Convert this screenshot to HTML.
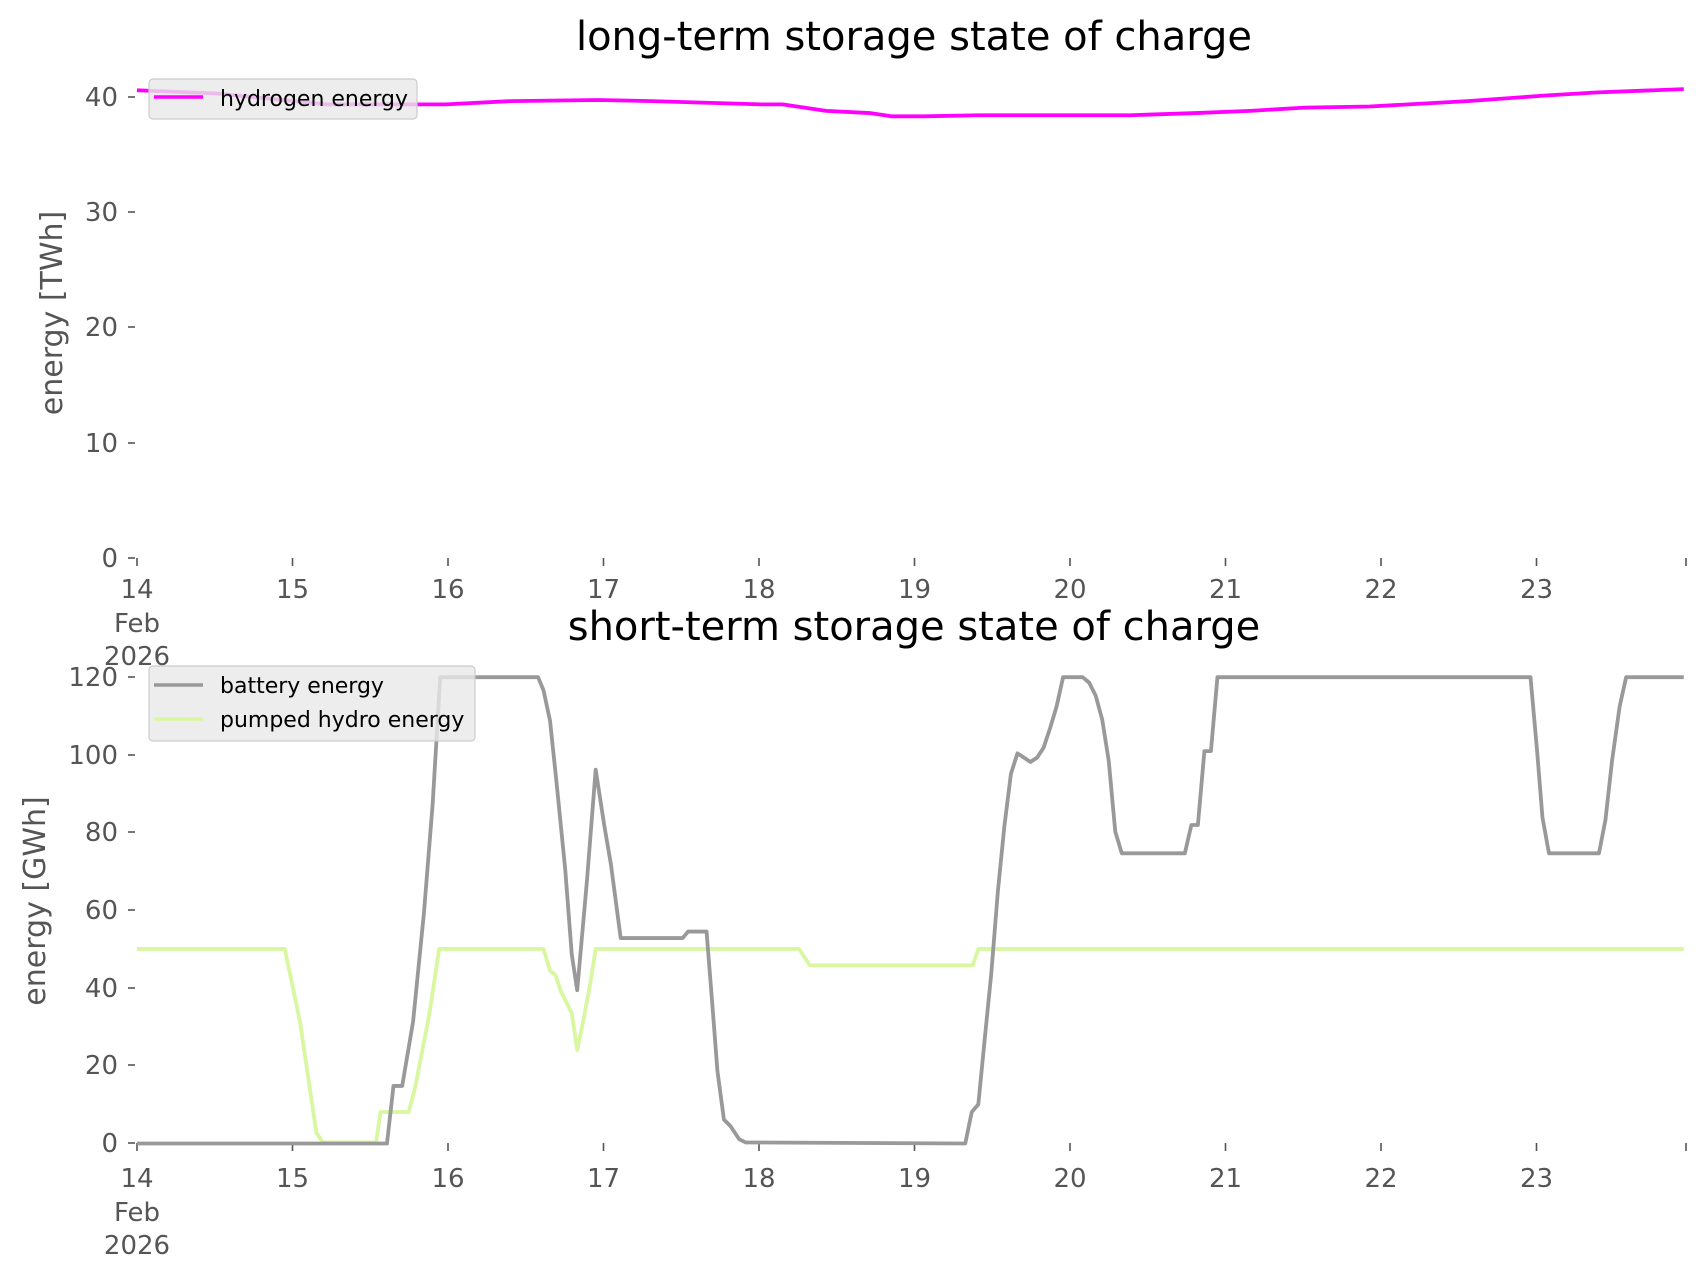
<!DOCTYPE html>
<html><head><meta charset="utf-8"><style>
html,body{margin:0;padding:0;background:#fff;}
svg{display:block;font-family:"DejaVu Sans","Liberation Sans",sans-serif;}
</style></head><body>
<svg width="1706" height="1277" viewBox="0 0 1706 1277" xmlns="http://www.w3.org/2000/svg">
<rect width="1706" height="1277" fill="#fff"/>
<text x="914" y="50" font-size="40" text-anchor="middle" fill="#000">long-term storage state of charge</text>
<text x="914" y="640" font-size="40" text-anchor="middle" fill="#000">short-term storage state of charge</text>
<text transform="translate(62,313) rotate(-90)" font-size="30" text-anchor="middle" fill="#555">energy [TWh]</text>
<text transform="translate(45,901) rotate(-90)" font-size="30" text-anchor="middle" fill="#555">energy [GWh]</text>

<g fill="#555" font-size="26" text-anchor="end">
<g stroke="#555" stroke-width="1.6">
<line x1="128" y1="558" x2="135" y2="558"/><line x1="128" y1="443" x2="135" y2="443"/><line x1="128" y1="327" x2="135" y2="327"/><line x1="128" y1="212" x2="135" y2="212"/><line x1="128" y1="97" x2="135" y2="97"/>
<line x1="128" y1="1143" x2="135" y2="1143"/><line x1="128" y1="1065" x2="135" y2="1065"/><line x1="128" y1="988" x2="135" y2="988"/><line x1="128" y1="910" x2="135" y2="910"/><line x1="128" y1="832" x2="135" y2="832"/><line x1="128" y1="755" x2="135" y2="755"/><line x1="128" y1="677" x2="135" y2="677"/>
</g>
<text x="118" y="567">0</text><text x="118" y="452">10</text><text x="118" y="336">20</text><text x="118" y="221">30</text><text x="118" y="106">40</text>
<text x="118" y="1152">0</text><text x="118" y="1074">20</text><text x="118" y="997">40</text><text x="118" y="919">60</text><text x="118" y="841">80</text><text x="118" y="764">100</text><text x="118" y="686">120</text>
</g>

<g stroke="#555" stroke-width="1.6">
<line x1="137" y1="558" x2="137" y2="566"/><line x1="292.5" y1="558" x2="292.5" y2="566"/><line x1="448" y1="558" x2="448" y2="566"/><line x1="603.5" y1="558" x2="603.5" y2="566"/><line x1="759" y1="558" x2="759" y2="566"/><line x1="914.5" y1="558" x2="914.5" y2="566"/><line x1="1070" y1="558" x2="1070" y2="566"/><line x1="1225.5" y1="558" x2="1225.5" y2="566"/><line x1="1381" y1="558" x2="1381" y2="566"/><line x1="1536.5" y1="558" x2="1536.5" y2="566"/><line x1="1686" y1="558" x2="1686" y2="566"/>
<line x1="137" y1="1143" x2="137" y2="1151"/><line x1="292.5" y1="1143" x2="292.5" y2="1151"/><line x1="448" y1="1143" x2="448" y2="1151"/><line x1="603.5" y1="1143" x2="603.5" y2="1151"/><line x1="759" y1="1143" x2="759" y2="1151"/><line x1="914.5" y1="1143" x2="914.5" y2="1151"/><line x1="1070" y1="1143" x2="1070" y2="1151"/><line x1="1225.5" y1="1143" x2="1225.5" y2="1151"/><line x1="1381" y1="1143" x2="1381" y2="1151"/><line x1="1536.5" y1="1143" x2="1536.5" y2="1151"/><line x1="1686" y1="1143" x2="1686" y2="1151"/>
</g>
<g fill="#555" font-size="26" text-anchor="middle">
<text x="137" y="598">14</text><text x="137" y="632">Feb</text><text x="137" y="665">2026</text>
<text x="292.5" y="598">15</text><text x="448" y="598">16</text><text x="603.5" y="598">17</text><text x="759" y="598">18</text><text x="914.5" y="598">19</text><text x="1070" y="598">20</text><text x="1225.5" y="598">21</text><text x="1381" y="598">22</text><text x="1536.5" y="598">23</text>
<text x="137" y="1187">14</text><text x="137" y="1221">Feb</text><text x="137" y="1254">2026</text>
<text x="292.5" y="1187">15</text><text x="448" y="1187">16</text><text x="603.5" y="1187">17</text><text x="759" y="1187">18</text><text x="914.5" y="1187">19</text><text x="1070" y="1187">20</text><text x="1225.5" y="1187">21</text><text x="1381" y="1187">22</text><text x="1536.5" y="1187">23</text>
</g>

<g transform="scale(1.087)" fill="none" stroke-linejoin="round" stroke-width="3.5">
<polyline stroke="#ff00ff" points="126,83 200,86 300,96 350,96 410,96 470,93 550,92 600,93 700,96 720,96 760,102 800,104 820,107 850,107 900,106 1040,106 1100,104 1150,102 1200,99 1260,98 1350,93 1420,88 1470,85 1549,82"/>
<polyline stroke="#d8f7a0" points="126,873 262,873 276,940 291,1042 297,1051 346,1051 350,1023 376,1023 382,1000 395,933 404,873 500,873 506,893 511,897 516,912 521,922 526,932 531,966 536,942 543,905 548,873 735,873 745,888 895,888 900,873 1549,873"/>
<polyline stroke="#999" points="126,1052 356,1052 362,999 370,999 380,940 390,840 398,740 405,623 495,623 500,635 506,663 512,720 520,800 526,878 531,911 540,810 548,708 556,760 562,795 571,863 628,863 633,857 650,857 655,920 660,985 666,1030 672,1036 680,1048 686,1051 888,1052 894,1023 900,1016 906,955 912,895 918,820 924,760 930,712 936,693 942,697 948,701 954,697 960,688 966,670 972,650 978,623 996,623 1002,628 1008,640 1014,662 1020,700 1026,765 1032,785 1090,785 1096,759 1102,759 1108,691 1114,691 1120,623 1408,623 1414,690 1419,752 1425,785 1471,785 1477,754 1483,700 1490,650 1496,623 1549,623"/>
</g>

<rect x="149" y="79" width="268" height="40" rx="4" fill="#e8e8e8" fill-opacity="0.8" stroke="#cccccc" stroke-width="1.2"/>
<line x1="154" y1="97" x2="203" y2="97" stroke="#ff00ff" stroke-width="3.5"/>
<text x="220" y="106" font-size="22" fill="#000">hydrogen energy</text>
<rect x="149" y="666" width="326" height="75" rx="4" fill="#e8e8e8" fill-opacity="0.8" stroke="#cccccc" stroke-width="1.2"/>
<line x1="154" y1="685" x2="203" y2="685" stroke="#999" stroke-width="3.5"/>
<text x="220" y="693" font-size="22" fill="#000">battery energy</text>
<line x1="154" y1="719" x2="203" y2="719" stroke="#d8f7a0" stroke-width="3.5"/>
<text x="220" y="727" font-size="22" fill="#000">pumped hydro energy</text>
</svg>
</body></html>
